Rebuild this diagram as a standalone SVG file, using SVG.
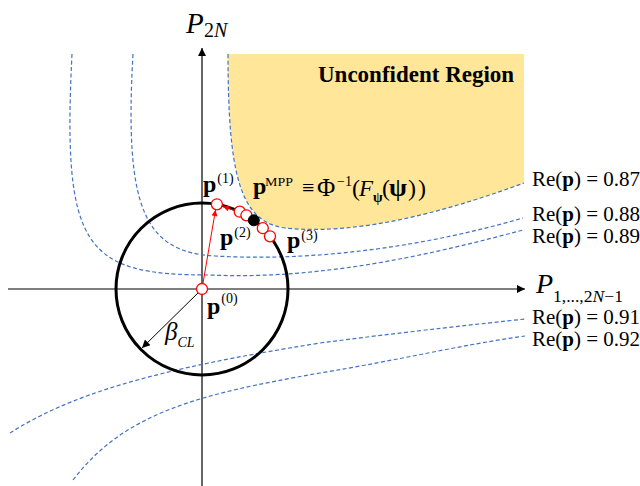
<svg xmlns="http://www.w3.org/2000/svg" width="640" height="486" viewBox="0 0 640 486">
<style>
text{font-family:"Liberation Serif","Times New Roman",serif;fill:#000}
.b{font-weight:bold}
.i{font-style:italic}
.dash{fill:none;stroke:#4472C4;stroke-width:1.2;stroke-dasharray:4 2.5}
.axis{stroke:#000;stroke-width:1.2;fill:none}
.pt{fill:#fff;stroke:#f00;stroke-width:1.3}
</style>
<defs>
<marker id="ah" viewBox="0 0 10 10" refX="10" refY="5" markerWidth="10" markerHeight="8" markerUnits="userSpaceOnUse" orient="auto"><path d="M0,0 L10,5 L0,10 z" fill="#000"/></marker>
<marker id="ahr" viewBox="0 0 10 10" refX="10" refY="5" markerWidth="8" markerHeight="6" markerUnits="userSpaceOnUse" orient="auto"><path d="M0,0 L10,5 L0,10 z" fill="#f00"/></marker>
</defs>

<g id="region">
<path d="M228,54 C228,175 240,222 285,228 C360,236 450,210 524,183 L524,54 Z" fill="#FFE699"/>
<text class="b" x="318" y="82" font-size="23">Unconfident Region</text>
</g>

<g id="connectors">
<line class="axis" x1="8" y1="289" x2="525" y2="289" marker-end="url(#ah)"/>
<line class="axis" x1="202" y1="486" x2="202" y2="48" marker-end="url(#ah)"/>
<path class="dash" d="M228,54 C228,175 240,222 285,228 C360,236 450,210 524,183"/>
<path class="dash" d="M133,54 C124,210 145,252 215,256 C320,262 430,245 523,218"/>
<path class="dash" d="M72,54 C62,250 85,275 210,275 C320,280 430,255 523,230"/>
<path class="dash" d="M10,433 C70,395 150,370 320,343 C420,330 480,324 525,319"/>
<path class="dash" d="M73,480 C125,412 200,394 320,373 C400,360 460,345 525,336"/>
<circle cx="202" cy="289" r="86" fill="none" stroke="#000" stroke-width="3"/>
<line x1="202" y1="289" x2="142" y2="348" stroke="#000" stroke-width="1" marker-end="url(#ah)"/>
<line x1="202" y1="289" x2="215.5" y2="210" stroke="#f00" stroke-width="1" marker-end="url(#ahr)"/>
<line x1="236" y1="211" x2="223" y2="206.5" stroke="#f00" stroke-width="1" marker-end="url(#ahr)"/>
</g>

<g id="p0"><circle class="pt" cx="202" cy="289" r="5.5"/>
<text x="207" y="313.5" font-size="24"><tspan class="b">p</tspan><tspan font-size="14" dy="-11" dx="1">(0)</tspan></text></g>
<g id="p1"><circle class="pt" cx="216.9" cy="204.3" r="5.5"/>
<text x="203" y="192" font-size="24"><tspan class="b">p</tspan><tspan font-size="14" dy="-9" dx="1">(1)</tspan></text></g>
<g id="p2"><circle class="pt" cx="239.7" cy="211.7" r="5.5"/><circle class="pt" cx="246.4" cy="215.3" r="5.5"/>
<text x="220" y="245" font-size="24"><tspan class="b">p</tspan><tspan font-size="14" dy="-8" dx="1">(2)</tspan></text></g>
<g id="p3"><circle class="pt" cx="262.8" cy="228.2" r="5.5"/><circle class="pt" cx="270" cy="236.3" r="5.5"/>
<text x="287" y="248" font-size="24"><tspan class="b">p</tspan><tspan font-size="14" dy="-8" dx="1">(3)</tspan></text></g>
<g id="mpp"><circle cx="253.8" cy="220.3" r="5.5" fill="#000" stroke="#000" stroke-width="1"/>
<text y="194" font-size="24"><tspan class="b" x="253">p</tspan><tspan x="265" y="186" font-size="13" textLength="28" lengthAdjust="spacingAndGlyphs">MPP</tspan><tspan x="302" y="195" font-size="22">≡</tspan><tspan x="317" y="196" font-size="25">Φ</tspan><tspan x="337" y="186" font-size="14">−1</tspan><tspan x="352" y="196" font-size="24">(</tspan><tspan class="i" x="359" y="196" font-size="23">F</tspan><tspan class="b" x="373" y="202" font-size="14">ψ</tspan><tspan x="382" y="196" font-size="24">(</tspan><tspan class="b" x="389" y="196" font-size="26">ψ</tspan><tspan x="408" y="196" font-size="24">)</tspan><tspan x="418" y="196" font-size="24">)</tspan></text></g>

<g id="labels">
<text x="186" y="33" font-size="29"><tspan class="i">P</tspan><tspan x="204" y="37" font-size="20">2<tspan class="i">N</tspan></tspan></text>
<text x="536" y="293" font-size="28"><tspan class="i">P</tspan><tspan x="553" y="302" font-size="16" textLength="70" lengthAdjust="spacingAndGlyphs">1,...,2<tspan class="i">N</tspan>−1</tspan></text>
<text x="165" y="340" font-size="25" class="i">β<tspan font-size="14" dy="7">CL</tspan></text>
<text x="532" y="186" font-size="21">Re(<tspan class="b">p</tspan>) = 0.87</text>
<text x="532" y="221" font-size="21">Re(<tspan class="b">p</tspan>) = 0.88</text>
<text x="532" y="243" font-size="21">Re(<tspan class="b">p</tspan>) = 0.89</text>
<text x="532" y="324" font-size="21">Re(<tspan class="b">p</tspan>) = 0.91</text>
<text x="532" y="346" font-size="21">Re(<tspan class="b">p</tspan>) = 0.92</text>
</g>
</svg>
